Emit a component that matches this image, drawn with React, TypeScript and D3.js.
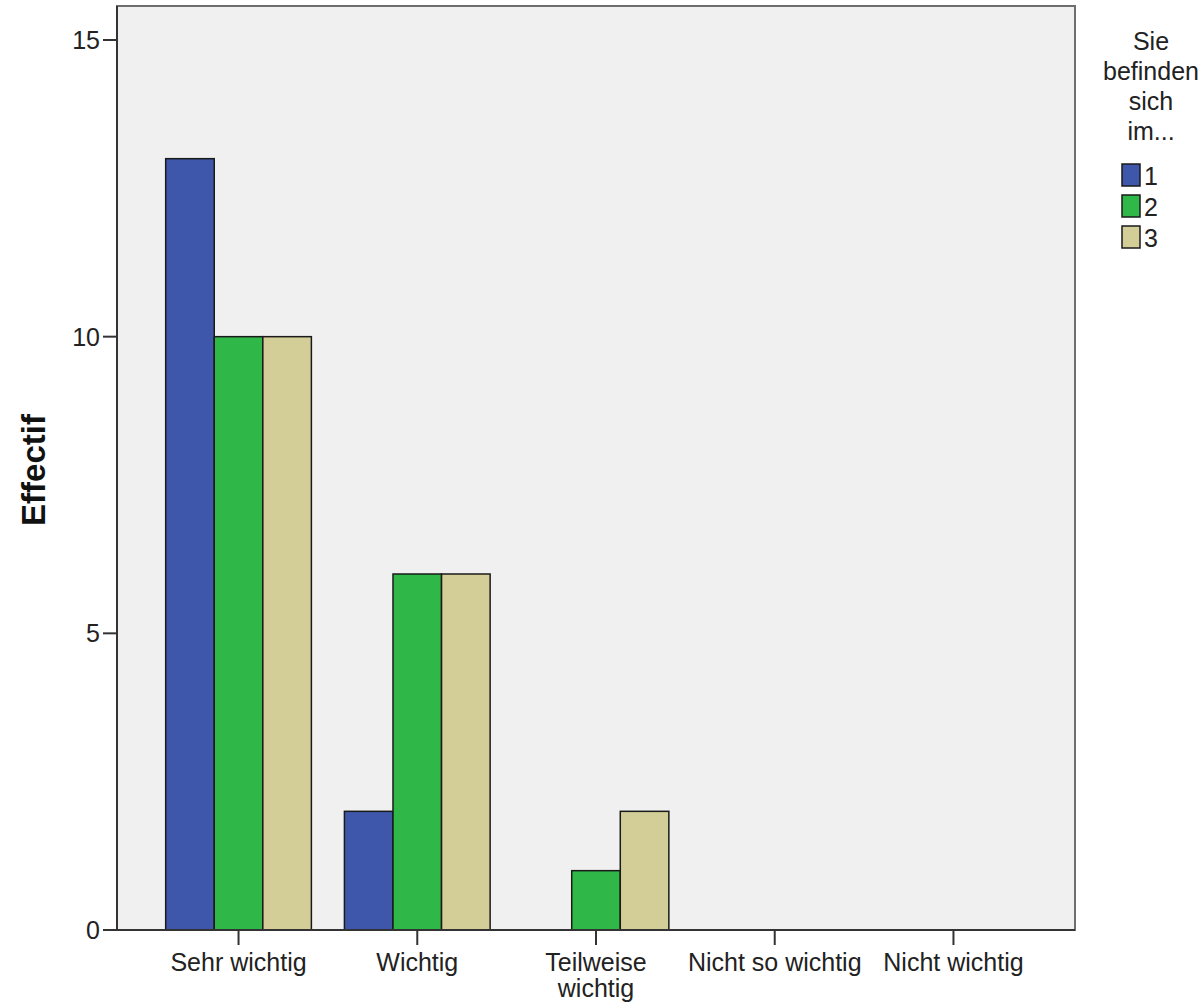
import * as d3 from "d3";

// Categories on the x axis (one line per entry of the inner arrays)
const categories = ["Sehr wichtig", "Wichtig", "Teilweise wichtig", "Nicht so wichtig", "Nicht wichtig"];
const categoryLines = [["Sehr wichtig"], ["Wichtig"], ["Teilweise", "wichtig"], ["Nicht so wichtig"], ["Nicht wichtig"]];

// Series (legend "Sie befinden sich im...")
const seriesKeys = ["1", "2", "3"];
const seriesColors = ["#3e57aa", "#2fb748", "#d3ce98"];
const values1 = [13, 2, 0, 0, 0];
const values2 = [10, 6, 1, 0, 0];
const values3 = [10, 6, 2, 0, 0];
const seriesValues = [values1, values2, values3];

const yTicks = [0, 5, 10, 15];
const legendTitle = ["Sie", "befinden", "sich", "im..."];

export default function App() {
  const W = 1204;
  const H = 1002;
  //plot frame
  const left = 117;
  const right = 1075;
  const top = 6;
  const bottom = 930;
  const font = "'Liberation Sans', Arial, sans-serif";

  const yScale = d3.scaleLinear().domain([0, 15]).range([bottom, 40]);
  const xScale = d3.scaleBand<string>().domain(categories).range([left, right]).paddingOuter(0.18).paddingInner(0);
  const inner = d3.scaleBand<string>().domain(seriesKeys).range([0, xScale.step()]).paddingOuter(0.34).paddingInner(0);

  return (
    <svg width={W} height={H} style={{ position: "absolute", left: 0, top: 0 }} fontFamily={font}>
      <rect x={0} y={0} width={W} height={H} fill="#fff" />
      <rect x={left} y={top} width={right - left} height={bottom - top} fill="#f0f0f0" stroke="#6e6e6e" strokeWidth={2} />

      {/* bars */}
      {categories.map((c, ci) => (
        <g key={c} transform={`translate(${xScale(c)},0)`}>
          {seriesKeys.map((s, si) => {
            const v = seriesValues[si][ci];
            if (v === 0) return null;
            return (
              <rect
                key={s}
                x={inner(s)}
                y={yScale(v)}
                width={inner.bandwidth()}
                height={yScale(0) - yScale(v)}
                fill={seriesColors[si]}
                stroke="#1a1a1a"
                strokeWidth={1.5}
              />
            );
          })}
        </g>
      ))}

      {/* axes */}
      <line x1={left} x2={left} y1={top} y2={bottom} stroke="#333" strokeWidth={2} />
      <line x1={left} x2={right} y1={bottom} y2={bottom} stroke="#333" strokeWidth={2} />

      {yTicks.map((t) => (
        <g key={t}>
          <line x1={left - 14} x2={left} y1={yScale(t)} y2={yScale(t)} stroke="#333" strokeWidth={2} />
          <text x={left - 17} y={yScale(t)} dy="0.36em" textAnchor="end" fontSize={25} fill="#222">
            {t}
          </text>
        </g>
      ))}

      {categories.map((c, ci) => {
        const cx = (xScale(c) ?? 0) + xScale.bandwidth() / 2;
        return (
          <g key={c}>
            <line x1={cx} x2={cx} y1={bottom} y2={bottom + 15} stroke="#333" strokeWidth={2} />
            <text x={cx} y={971} textAnchor="middle" fontSize={25} fill="#222">
              {categoryLines[ci].map((l, li) => (
                <tspan key={li} x={cx} dy={li === 0 ? 0 : 26}>
                  {l}
                </tspan>
              ))}
            </text>
          </g>
        );
      })}

      <text
        transform={`translate(45,${(top + bottom) / 2 + 2}) rotate(-90)`}
        textAnchor="middle"
        fontSize={33}
        fontWeight="bold"
        fill="#111"
      >
        Effectif
      </text>

      {/* legend */}
      <text x={1151} y={50} textAnchor="middle" fontSize={25} fill="#222">
        {legendTitle.map((l, i) => (
          <tspan key={i} x={1151} dy={i === 0 ? 0 : 30}>
            {l}
          </tspan>
        ))}
      </text>
      {seriesKeys.map((s, i) => (
        <g key={s} transform={`translate(1122,${164 + i * 31})`}>
          <rect x={0} y={0} width={18} height={22} fill={seriesColors[i]} stroke="#1a1a1a" strokeWidth={1.5} />
          <text x={22} y={21} fontSize={25} fill="#222">
            {s}
          </text>
        </g>
      ))}
    </svg>
  );
}
